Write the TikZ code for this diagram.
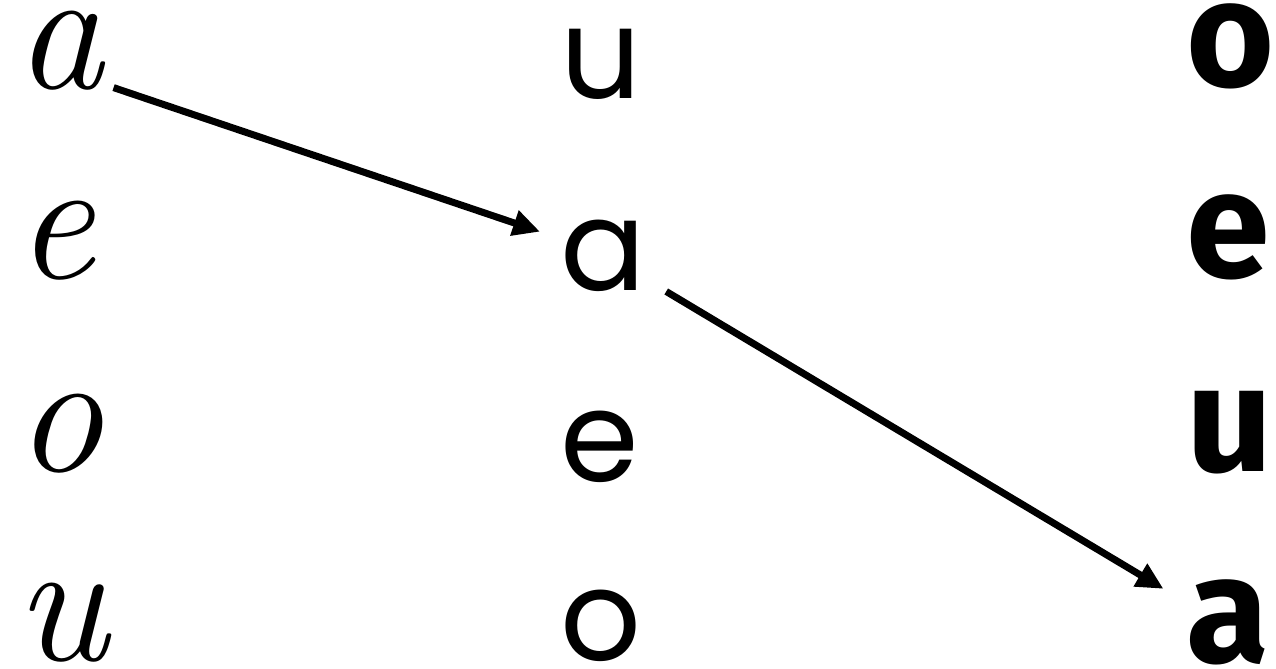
\documentclass[tikz,border=0pt]{standalone}
\usepackage{fontspec}
\usepackage{tikz}
\usetikzlibrary{arrows.meta,positioning}
\newfontfamily\midfont{Poppins}
\newfontfamily\boldfont{Fira Sans}

\begin{document}
\begin{tikzpicture}[
    cursive/.style={inner sep=0pt, anchor=base west, font=\fontsize{100}{100}\selectfont\itshape},
    plainletter/.style={inner sep=0pt, anchor=base west, font=\fontsize{72}{72}\selectfont\midfont},
    boldletter/.style={inner sep=0pt, anchor=base west, font=\fontsize{86}{86}\selectfont\boldfont\bfseries},
    arrow/.style={-{Triangle[length=0.54cm, width=0.5cm]}, line width=0.14cm}]

\useasboundingbox (0,0) rectangle (25.52,-13.36);

% Left column (cursive)
\node[cursive] (la) at (0.3, -1.76) {a};
\node[cursive] (le) at (0.3, -5.56) {e};
\node[cursive] (lo) at (0.3, -9.42) {o};
\node[cursive] (lu) at (0.3, -13.2) {u};

% Middle column
\node[plainletter] (mu) at (11.2, -1.96) {u};
\node[plainletter] (ma) at (11.2, -5.8) {a};
\node[plainletter] (me) at (11.2, -9.62) {e};
\node[plainletter] (mo) at (11.2, -13.2) {o};

% Right column (bold)
\node[boldletter] (ro) at (23.72, -1.72) {o};
\node[boldletter] (re) at (23.72, -5.54) {e};
\node[boldletter] (ru) at (23.72, -9.42) {u};
\node[boldletter] (ra) at (23.72, -13.24) {a};

% Matching arrows
\draw[arrow] ([shift={(0.2,0.05)}]la.south east) -- ([shift={(-0.4,-0.25)}]ma.north west);
\draw[arrow] ([shift={(0.4,0)}]ma.south east) -- ([shift={(-0.45,-0.2)}]ra.north west);

\end{tikzpicture}
\end{document}
